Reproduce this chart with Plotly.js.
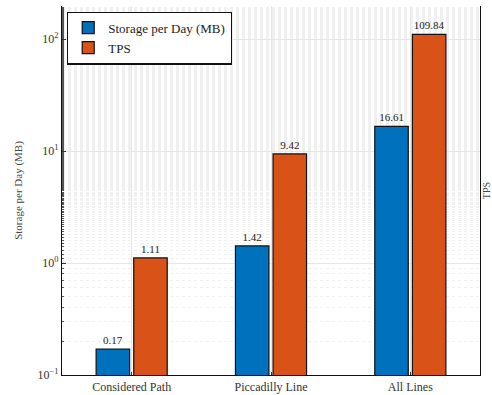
<!DOCTYPE html>
<html>
<head>
<meta charset="utf-8">
<script src="https://cdn.plot.ly/plotly-3.0.1.min.js"></script>
<style>html,body{margin:0;padding:0;background:#fff;}#chart{width:492px;height:395px;}</style>
</head>
<body>
<div id="chart"></div>
<script>
const categories = ["Considered Path", "Piccadilly Line", "All Lines"];
const storagePerDay = [0.17, 1.42, 16.61];
const tps = [1.11, 9.42, 109.84];
const storageLabels = ["0.17", "1.42", "16.61"];
const tpsLabels = ["1.11", "9.42", "109.84"];
const yTickVals = [0.1, 1, 10, 100];
const yTickText = ["10<sup>−1</sup>", "10<sup>0</sup>", "10<sup>1</sup>", "10<sup>2</sup>"];

const fontFamily = "Liberation Serif";

const traces = [
  {
    type: "bar", name: "Storage per Day (MB)", x: categories, y: storagePerDay,
    text: storageLabels, textposition: "outside", cliponaxis: false,
    textfont: {family: fontFamily, size: 11, color: "#222"},
    marker: {color: "#0072BD", line: {color: "#111", width: 1.2}}
  },
  {
    type: "bar", name: "TPS", x: categories, y: tps,
    text: tpsLabels, textposition: "outside", cliponaxis: false,
    textfont: {family: fontFamily, size: 11, color: "#222"},
    marker: {color: "#D95319", line: {color: "#111", width: 1.2}}
  },
  {
    type: "scatter", x: categories, y: tps, yaxis: "y2", mode: "none",
    showlegend: false, hoverinfo: "skip"
  }
];

const layout = {
  width: 492, height: 395,
  margin: {l: 62, r: 12, t: 6, b: 20},
  paper_bgcolor: "#fff", plot_bgcolor: "#fff",
  font: {family: fontFamily, size: 12, color: "#333"},
  barmode: "group", bargap: 0.46, bargroupgap: 0.11,
  showlegend: true,
  legend: {
    x: 0.012, y: 0.985, xanchor: "left", yanchor: "top",
    bordercolor: "#111", borderwidth: 1.2, bgcolor: "#fff",
    font: {family: fontFamily, size: 13, color: "#222"},
    tracegroupgap: 0, itemwidth: 30
  },
  xaxis: {
    type: "category", range: [-0.5, 2.5],
    showline: true, linecolor: "#111", linewidth: 1.2,
    showgrid: true, gridcolor: "#e6e6e6", gridwidth: 1,
    ticks: "inside", ticklen: 3, tickcolor: "#333",
    tickfont: {family: fontFamily, size: 12, color: "#333"},
    zeroline: false
  },
  yaxis: {
    type: "log", range: [-1, 2.295],
    showline: true, linecolor: "#111", linewidth: 1.2,
    showgrid: true, gridcolor: "#e6e6e6", gridwidth: 1,
    ticks: "inside", ticklen: 4, tickcolor: "#333",
    tickvals: yTickVals, ticktext: yTickText,
    tickfont: {family: fontFamily, size: 12, color: "#333"},
    minor: {ticks: "inside", ticklen: 2, tickcolor: "#555", showgrid: true,
            gridcolor: "#f0f0f0", griddash: "dot", gridwidth: 1},
    title: {text: "Storage per Day (MB)", standoff: 12,
            font: {family: fontFamily, size: 11, color: "#444"}},
    zeroline: false
  },
  yaxis2: {
    type: "log", range: [-1, 2.295], overlaying: "y", side: "right",
    showline: true, linecolor: "#111", linewidth: 1.2,
    showticklabels: false, ticks: "", showgrid: false, zeroline: false,
    title: {text: "TPS", standoff: 2,
            font: {family: fontFamily, size: 10, color: "#444"}}
  }
};

Plotly.newPlot("chart", traces, layout, {displayModeBar: false, staticPlot: true});
</script>
</body>
</html>
